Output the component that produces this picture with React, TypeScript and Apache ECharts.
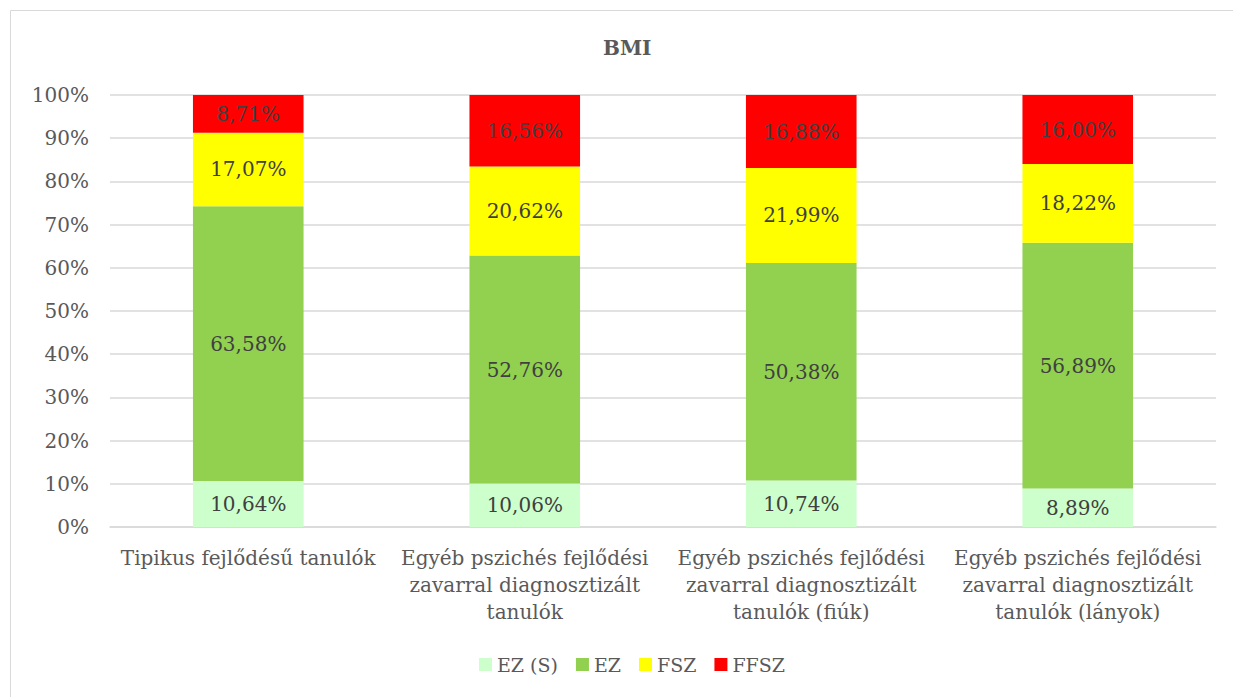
import React, { useEffect, useRef } from "react";
import * as echarts from "echarts";

const categories = [
  "Tipikus fejlődésű tanulók",
  "Egyéb pszichés fejlődési\nzavarral diagnosztizált\ntanulók",
  "Egyéb pszichés fejlődési\nzavarral diagnosztizált\ntanulók (fiúk)",
  "Egyéb pszichés fejlődési\nzavarral diagnosztizált\ntanulók (lányok)",
];
const seriesNames = ["EZ (S)", "EZ", "FSZ", "FFSZ"];
const ezS = [10.64, 10.06, 10.74, 8.89];
const ez = [63.58, 52.76, 50.38, 56.89];
const fsz = [17.07, 20.62, 21.99, 18.22];
const ffsz = [8.71, 16.56, 16.88, 16.0];
const colors = ["#CCFFCC", "#92D050", "#FFFF00", "#FF0000"];

const FONT = "DejaVu Serif";

export default function App() {
  const ref = useRef<HTMLDivElement>(null);
  useEffect(() => {
    if (!ref.current) return;
    const chart = echarts.init(ref.current, undefined, { renderer: "svg" });
    const data = [ezS, ez, fsz, ffsz];
    chart.setOption({
      animation: false,
      backgroundColor: "#FFFFFF",
      textStyle: { fontFamily: FONT },
      graphic: [
        {
          type: "rect",
          shape: { x: 10.5, y: 10.5, width: 1240, height: 700 },
          style: { fill: "none", stroke: "#D9D9D9", lineWidth: 1 },
          silent: true,
        },
      ],
      title: {
        text: "BMI",
        left: 598,
        top: 33,
        textStyle: { fontFamily: FONT, fontSize: 20, fontWeight: "bold", color: "#595959" },
      },
      legend: {
        bottom: 18,
        left: 474,
        itemWidth: 13,
        itemHeight: 13,
        itemGap: 18,
        icon: "rect",
        textStyle: { fontFamily: FONT, fontSize: 19, color: "#595959" },
        data: seriesNames,
      },
      grid: { left: 110, right: 17, top: 95, bottom: 170, containLabel: false },
      xAxis: {
        type: "category",
        data: categories,
        axisLine: { lineStyle: { color: "#D9D9D9", width: 1.5 } },
        axisTick: { show: false },
        axisLabel: {
          interval: 0,
          fontFamily: FONT,
          fontSize: 20,
          color: "#595959",
          lineHeight: 27,
          margin: 17,
        },
      },
      yAxis: {
        type: "value",
        min: 0,
        max: 100,
        interval: 10,
        axisLine: { show: false },
        axisTick: { show: false },
        splitLine: { lineStyle: { color: "#D9D9D9", width: 1.5 } },
        axisLabel: {
          formatter: "{value}%",
          fontFamily: FONT,
          fontSize: 20,
          color: "#595959",
          margin: 21,
        },
      },
      series: seriesNames.map((name, i) => ({
        name,
        type: "bar",
        stack: "total",
        barWidth: "40%",
        itemStyle: { color: colors[i] },
        label: {
          show: true,
          position: "inside",
          fontFamily: FONT,
          fontSize: 20,
          color: "#404040",
          formatter: (p: any) => p.value.toFixed(2).replace(".", ",") + "%",
        },
        data: data[i],
      })),
    });
    return () => chart.dispose();
  }, []);
  return (
    <div
      ref={ref}
      style={{ position: "absolute", left: 0, top: 0, width: 1233, height: 697 }}
    />
  );
}
